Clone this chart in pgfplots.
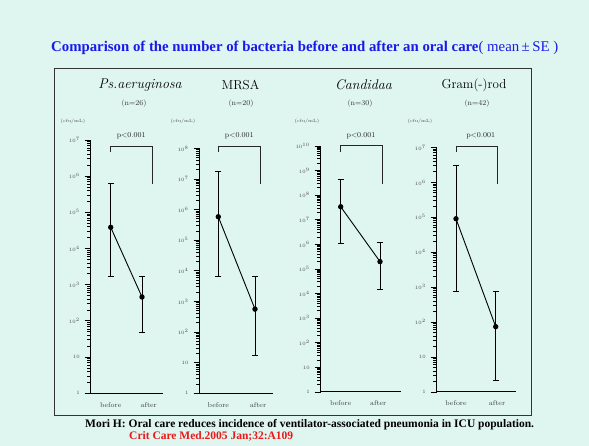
\documentclass[border=0pt]{standalone}
\usepackage{fontspec}
\usepackage{pgfplots}
\pgfplotsset{compat=1.18}
\newfontfamily\timesfont{Liberation Serif}
\definecolor{bg}{RGB}{222,245,240}
\definecolor{ttlblue}{RGB}{25,25,235}
\definecolor{refred}{RGB}{235,25,25}
\tikzset{
  errb/.style={black, line width=0.8pt, mark=-, mark size=3pt, mark options={line width=0.8pt, solid}},
  meanl/.style={black, line width=0.9pt, mark=*, mark size=2.2pt},
  brk/.style={black!85, line width=1pt},
  xlab/.style={font=\fontsize{7}{8}\selectfont, text=black!75, below=5.5pt},
}
\begin{document}
\begin{tikzpicture}
\fill[bg] (0pt,0pt) rectangle (589pt,446pt);
\draw[black!80, line width=0.8pt] (54pt,377.7pt) rectangle (531pt,31pt);
% main title
\node[anchor=west, inner sep=0pt, text=ttlblue] at (51pt,397.7pt)
  {\timesfont\fontsize{14.8}{16}\selectfont\textbf{Comparison of the number of bacteria before and after an oral care}( mean\,±\,SE )};
% footer
\node[anchor=west, inner sep=0pt] at (85pt,21pt)
  {\timesfont\fontsize{11.5}{13}\selectfont\textbf{Mori H: Oral care reduces incidence of ventilator-associated pneumonia in ICU population.}};
\node[anchor=west, inner sep=0pt, text=refred] at (129pt,9.3pt)
  {\timesfont\fontsize{11.5}{13}\selectfont\textbf{Crit Care Med.2005 Jan;32:A109}};
% panel titles
\node[font=\fontsize{14}{16}\selectfont\itshape] at (140pt,361pt) {Ps.aeruginosa};
\node[font=\fontsize{13}{15}\selectfont] at (240.5pt,361pt) {MRSA};
\node[font=\fontsize{14}{16}\selectfont\itshape] at (363.5pt,361pt) {Candidaa};
\node[font=\fontsize{13}{15}\selectfont] at (474pt,361pt) {Gram(-)rod};
\node[font=\fontsize{7.5}{9}\selectfont, text=black!80] at (134pt,342pt) {(n=26)};
\node[font=\fontsize{7.5}{9}\selectfont, text=black!80] at (241pt,342pt) {(n=20)};
\node[font=\fontsize{7.5}{9}\selectfont, text=black!80] at (360pt,342pt) {(n=30)};
\node[font=\fontsize{7.5}{9}\selectfont, text=black!80] at (477pt,342pt) {(n=42)};
\node[font=\fontsize{4.5}{5}\selectfont, text=black!70] at (73pt,324.3pt) {(cfu/mL)};
\node[font=\fontsize{4.5}{5}\selectfont, text=black!70] at (183pt,324.3pt) {(cfu/mL)};
\node[font=\fontsize{4.5}{5}\selectfont, text=black!70] at (307pt,324.3pt) {(cfu/mL)};
\node[font=\fontsize{4.5}{5}\selectfont, text=black!70] at (420pt,324.3pt) {(cfu/mL)};
\node[font=\fontsize{7.5}{9}\selectfont, text=black!85] at (131.2pt,310.3pt) {p<0.001};
\node[font=\fontsize{7.5}{9}\selectfont, text=black!85] at (239.3pt,310.3pt) {p<0.001};
\node[font=\fontsize{7.5}{9}\selectfont, text=black!85] at (361pt,310.3pt) {p<0.001};
\node[font=\fontsize{7.5}{9}\selectfont, text=black!85] at (480.7pt,310.3pt) {p<0.001};
% Panel 1
\begin{axis}[ymode=log, scale only axis, anchor=south west, clip=false,
  at={(90.7pt,52.7pt)}, width=72.6pt, height=253.3pt,
  xmin=0, xmax=72.6, ymin=1, ymax=1e7,
  axis lines=left, axis line style={-, line width=1pt, black},
  tick align=outside, major tick length=6pt, minor tick length=3.5pt,
  tick style={black, line width=0.9pt},
  xtick=\empty,
  yticklabel style={font=\fontsize{5}{6}\selectfont, text=black!70, anchor=east, xshift=-1.5pt},
  ytick={1,10,100,1000,10000,100000,1000000,10000000},
  minor ytick={2,3,4,5,6,7,8,9,20,30,40,50,60,70,80,90,200,300,400,500,600,700,800,900,2000,3000,4000,5000,6000,7000,8000,9000,20000,30000,40000,50000,60000,70000,80000,90000,200000,300000,400000,500000,600000,700000,800000,900000,2000000,3000000,4000000,5000000,6000000,7000000,8000000,9000000},
  yticklabels={1,10,10\textsuperscript{2},10\textsuperscript{3},10\textsuperscript{4},10\textsuperscript{5},10\textsuperscript{6},10\textsuperscript{7}}]
\addplot[errb] coordinates {(20,1710) (20,631000)};
\addplot[errb] coordinates {(51.3,48.5) (51.3,1710)};
\addplot[meanl] coordinates {(20,38600) (51.3,458)};
\addplot[brk] coordinates {(20,4790000) (20,6460000) (61.6,6460000) (61.6,603000)};
\node[xlab] at (axis cs:20,1) {before};
\node[xlab] at (axis cs:58,1) {after};
\end{axis}
% Panel 2
\begin{axis}[ymode=log, scale only axis, anchor=south west, clip=false,
  at={(199.5pt,52.7pt)}, width=73.8pt, height=244.8pt,
  xmin=0, xmax=73.8, ymin=1, ymax=1e8,
  axis lines=left, axis line style={-, line width=1pt, black},
  tick align=outside, major tick length=6pt, minor tick length=3.5pt,
  tick style={black, line width=0.9pt},
  xtick=\empty,
  yticklabel style={font=\fontsize{5}{6}\selectfont, text=black!70, anchor=east, xshift=-1.5pt},
  ytick={1,10,100,1000,10000,100000,1000000,10000000,100000000},
  minor ytick={2,3,4,5,6,7,8,9,20,30,40,50,60,70,80,90,200,300,400,500,600,700,800,900,2000,3000,4000,5000,6000,7000,8000,9000,20000,30000,40000,50000,60000,70000,80000,90000,200000,300000,400000,500000,600000,700000,800000,900000,2000000,3000000,4000000,5000000,6000000,7000000,8000000,9000000,20000000,30000000,40000000,50000000,60000000,70000000,80000000,90000000},
  yticklabels={1,10,10\textsuperscript{2},10\textsuperscript{3},10\textsuperscript{4},10\textsuperscript{5},10\textsuperscript{6},10\textsuperscript{7},10\textsuperscript{8}}]
\addplot[errb] coordinates {(18.8,6610) (18.8,18200000)};
\addplot[errb] coordinates {(55.5,17.0) (55.5,6610)};
\addplot[meanl] coordinates {(18.8,589000) (55.5,562)};
\addplot[brk] coordinates {(18.8,79400000) (18.8,115000000) (60.5,115000000) (60.5,6920000)};
\node[xlab] at (axis cs:18.8,1) {before};
\node[xlab] at (axis cs:58.5,1) {after};
\end{axis}
% Panel 3
\begin{axis}[ymode=log, scale only axis, anchor=south west, clip=false,
  at={(320.7pt,54pt)}, width=80pt, height=246pt,
  xmin=0, xmax=80, ymin=1, ymax=1e10,
  axis lines=left, axis line style={-, line width=1pt, black},
  tick align=outside, major tick length=6pt, minor tick length=3.5pt,
  tick style={black, line width=0.9pt},
  xtick=\empty,
  yticklabel style={font=\fontsize{5}{6}\selectfont, text=black!70, anchor=east, xshift=-1.5pt},
  ytick={1,10,100,1000,10000,100000,1000000,10000000,100000000,1000000000,10000000000},
  minor ytick={2,3,4,5,6,7,8,9,20,30,40,50,60,70,80,90,200,300,400,500,600,700,800,900,2000,3000,4000,5000,6000,7000,8000,9000,20000,30000,40000,50000,60000,70000,80000,90000,200000,300000,400000,500000,600000,700000,800000,900000,2000000,3000000,4000000,5000000,6000000,7000000,8000000,9000000,20000000,30000000,40000000,50000000,60000000,70000000,80000000,90000000,200000000,300000000,400000000,500000000,600000000,700000000,800000000,900000000,2000000000,3000000000,4000000000,5000000000,6000000000,7000000000,8000000000,9000000000},
  yticklabels={1,10,10\textsuperscript{2},10\textsuperscript{3},10\textsuperscript{4},10\textsuperscript{5},10\textsuperscript{6},10\textsuperscript{7},10\textsuperscript{8},10\textsuperscript{9},10\textsuperscript{10}}]
\addplot[errb] coordinates {(20,1070000) (20,447000000)};
\addplot[errb] coordinates {(59.3,14800) (59.3,1170000)};
\addplot[meanl] coordinates {(20,33900000) (59.3,200000)};
\addplot[brk] coordinates {(20,5890000000) (20,10000000000) (61.6,10000000000) (61.6,288000000)};
\node[xlab] at (axis cs:20,1) {before};
\node[xlab] at (axis cs:57.5,1) {after};
\end{axis}
% Panel 4
\begin{axis}[ymode=log, scale only axis, anchor=south west, clip=false,
  at={(436.7pt,54pt)}, width=79.3pt, height=244.5pt,
  xmin=0, xmax=79.3, ymin=1, ymax=1e7,
  axis lines=left, axis line style={-, line width=1pt, black},
  tick align=outside, major tick length=6pt, minor tick length=3.5pt,
  tick style={black, line width=0.9pt},
  xtick=\empty,
  yticklabel style={font=\fontsize{5}{6}\selectfont, text=black!70, anchor=east, xshift=-1.5pt},
  ytick={1,10,100,1000,10000,100000,1000000,10000000},
  minor ytick={2,3,4,5,6,7,8,9,20,30,40,50,60,70,80,90,200,300,400,500,600,700,800,900,2000,3000,4000,5000,6000,7000,8000,9000,20000,30000,40000,50000,60000,70000,80000,90000,200000,300000,400000,500000,600000,700000,800000,900000,2000000,3000000,4000000,5000000,6000000,7000000,8000000,9000000},
  yticklabels={1,10,10\textsuperscript{2},10\textsuperscript{3},10\textsuperscript{4},10\textsuperscript{5},10\textsuperscript{6},10\textsuperscript{7}}]
\addplot[errb] coordinates {(19.3,776) (19.3,3160000)};
\addplot[errb] coordinates {(59,2.09) (59,776)};
\addplot[meanl] coordinates {(19.3,91200) (59,74.1)};
\addplot[brk] coordinates {(19.3,7590000) (19.3,10500000) (60.6,10500000) (60.6,891000)};
\node[xlab] at (axis cs:19.3,1) {before};
\node[xlab] at (axis cs:60.3,1) {after};
\end{axis}
\end{tikzpicture}
\end{document}
